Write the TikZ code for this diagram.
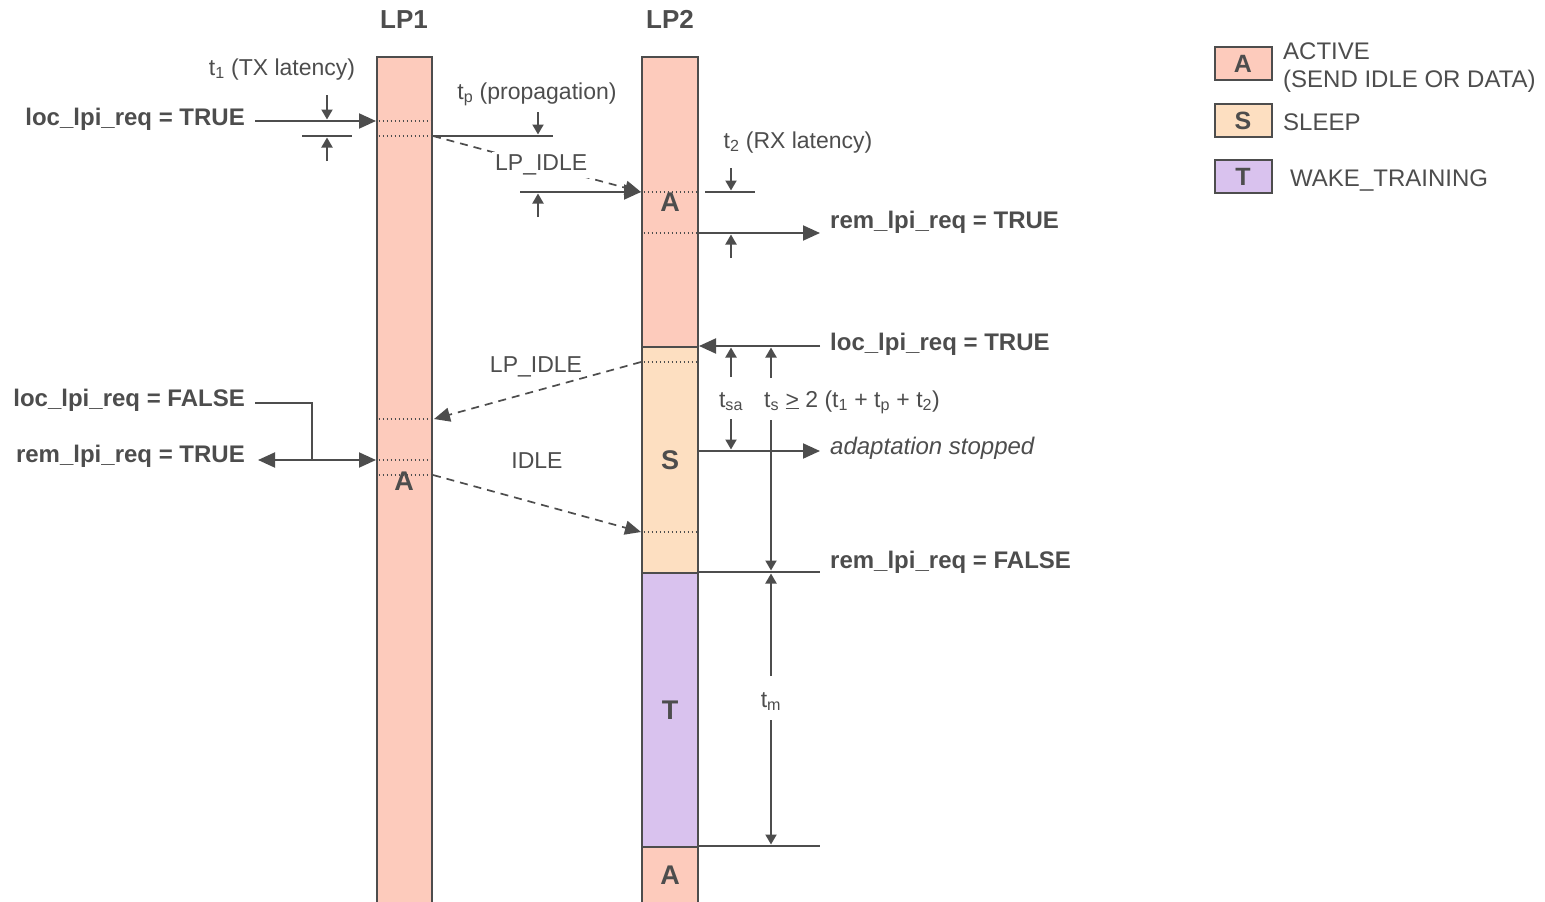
\documentclass[tikz,border=0pt]{standalone}
\usepackage{fontspec}
\setmainfont{Liberation Sans}
\usetikzlibrary{arrows.meta}

\definecolor{ink}{HTML}{4D4D4D}
\definecolor{actfill}{HTML}{FDCBBC}
\definecolor{slpfill}{HTML}{FDDFC1}
\definecolor{trnfill}{HTML}{D9C2EE}

\tikzset{
  every node/.style={text=ink, inner sep=0pt, font=\fontsize{23}{27}\selectfont},
  big/.style={font=\fontsize{24}{28}\selectfont},
  sig/.style={font=\fontsize{24}{28}\selectfont\bfseries},
  title/.style={font=\fontsize{26}{30}\selectfont\bfseries},
  state/.style={font=\fontsize{27}{31}\selectfont\bfseries},
  seg/.style={draw=ink, line width=2pt, minimum width=56pt, inner sep=0pt, anchor=north},
  keybox/.style={draw=ink, line width=2pt, minimum width=57pt, minimum height=33pt,
                 font=\fontsize{25}{29}\selectfont\bfseries},
  wire/.style={draw=ink, line width=2pt},
  bigarrow/.style={wire, -{Triangle[length=17pt,width=15pt]}},
  dualarrow/.style={wire, {Triangle[length=17pt,width=15pt]}-{Triangle[length=17pt,width=15pt]}},
  dimarrow/.style={wire, -{Triangle[length=10pt,width=11pt]}},
  msg/.style={draw=ink, line width=1.7pt, dash pattern=on 8pt off 6pt,
              -{Triangle[length=16pt,width=14pt]}},
  tick/.style={draw=ink, line width=1.3pt, dash pattern=on 1.3pt off 2.7pt},
}

\begin{document}
\begin{tikzpicture}[x=1pt,y=-1pt]
\useasboundingbox (0,0) rectangle (1545,902);

% ---------- lanes ----------
\node[seg, fill=actfill, minimum width=55pt, minimum height=850pt] (lp1) at (404.5,56) {};
\node[seg, fill=actfill, minimum height=290pt] (lp2a) at (670,56) {};
\node[seg, fill=slpfill, minimum height=226pt] (lp2s) at (670,346) {};
\node[seg, fill=trnfill, minimum height=274pt] (lp2t) at (670,572) {};
\node[seg, fill=actfill, minimum height=60pt] (lp2b) at (670,846) {};

\node[title, anchor=base] (h1) at (404,28) {LP1};
\node[title, anchor=base] (h2) at (670,28) {LP2};

% event markers inside the lanes
\foreach \y in {121,136,419,460,475}
  \draw[tick] (378.5,\y) -- (431,\y);
\foreach \y in {192,233,362,532}
  \draw[tick] (643.5,\y) -- (697,\y);

\node[state] (sA1) at (404,481) {A};
\node[state] (sA2) at (670,202) {A};
\node[state] (sS)  at (670,460) {S};
\node[state] (sT)  at (670,710) {T};
\node[state] (sA3) at (670,875) {A};

% ---------- LP1 requests sleep ----------
\node[sig, anchor=base east] (req1) at (245,125) {loc\_lpi\_req = TRUE};
\coordinate (req1s) at (255,121);
\coordinate (req1e) at (376,121);
\draw[bigarrow] (req1s) -- (req1e);

% t1 (TX latency)
\node[anchor=base] (t1lbl) at (282,75) {t\textsubscript{1} (TX latency)};
\coordinate (t1top) at (327,95);   \coordinate (t1topE) at (327,119.5);
\coordinate (t1l) at (302,136);    \coordinate (t1r) at (352,136);
\coordinate (t1bot) at (327,161);  \coordinate (t1botE) at (327,137.5);
\draw[dimarrow] (t1top) -- (t1topE);
\draw[wire] (t1l) -- (t1r);
\draw[dimarrow] (t1bot) -- (t1botE);

% tp (propagation)
\node[anchor=base] (tplbl) at (537,99) {t\textsubscript{p} (propagation)};
\coordinate (tx1) at (433,136);
\coordinate (tpr) at (553,136);
\coordinate (tptop) at (538,112);  \coordinate (tptopE) at (538,134.5);
\draw[wire] (tx1) -- (tpr);
\draw[dimarrow] (tptop) -- (tptopE);

% LP_IDLE from LP1 to LP2
\coordinate (rx1) at (641,192);
\draw[msg] (tx1) -- node[pos=0.52, fill=white, inner sep=3pt] (li1) {LP\_IDLE} (rx1);
\coordinate (rx1l) at (520,192);
\draw[bigarrow] (rx1l) -- (rx1);
\coordinate (tpbot) at (538,217);  \coordinate (tpbotE) at (538,193.5);
\draw[dimarrow] (tpbot) -- (tpbotE);

% t2 (RX latency)
\node[anchor=base] (t2lbl) at (798,148) {t\textsubscript{2} (RX latency)};
\coordinate (t2l) at (705,192);    \coordinate (t2r) at (755,192);
\coordinate (t2top) at (731,168);  \coordinate (t2topE) at (731,190.5);
\draw[wire] (t2l) -- (t2r);
\draw[dimarrow] (t2top) -- (t2topE);

\coordinate (rem1s) at (699,233);  \coordinate (rem1e) at (820,233);
\draw[bigarrow] (rem1s) -- (rem1e);
\node[sig, anchor=base west] (rem1) at (830,228) {rem\_lpi\_req = TRUE};
\coordinate (t2bot) at (731,258);  \coordinate (t2botE) at (731,234.5);
\draw[dimarrow] (t2bot) -- (t2botE);

% ---------- LP2 requests sleep ----------
\coordinate (req2s) at (820,346);  \coordinate (req2e) at (699,346);
\draw[bigarrow] (req2s) -- (req2e);
\node[sig, anchor=base west] (req2) at (830,350) {loc\_lpi\_req = TRUE};

% tsa and ts
\coordinate (tsa1) at (731,377);   \coordinate (tsa1E) at (731,347.5);
\coordinate (tsa2) at (731,419);   \coordinate (tsa2E) at (731,449.5);
\draw[dimarrow] (tsa1) -- (tsa1E);
\draw[dimarrow] (tsa2) -- (tsa2E);
\node[anchor=base] (tsalbl) at (731,407) {t\textsubscript{sa}};

\coordinate (ts1) at (771,378);    \coordinate (ts1E) at (771,347.5);
\coordinate (ts2) at (771,420);    \coordinate (ts2E) at (771,570.5);
\draw[dimarrow] (ts1) -- (ts1E);
\draw[dimarrow] (ts2) -- (ts2E);
\node[anchor=base west] (tslbl) at (764,407)
  {t\textsubscript{s} \underline{>} 2 (t\textsubscript{1} + t\textsubscript{p} + t\textsubscript{2})};

\coordinate (adS) at (699,451);    \coordinate (adE) at (820,451);
\draw[bigarrow] (adS) -- (adE);
\node[anchor=base west, font=\fontsize{24}{28}\selectfont\itshape] (adlbl) at (830,454) {adaptation stopped};

% LP_IDLE from LP2 back to LP1
\coordinate (tx2) at (641,362);    \coordinate (rx2) at (434,419);
\draw[msg] (tx2) -- (rx2);
\node[anchor=base] (li2) at (536,372) {LP\_IDLE};

% LP1 leaves LPI
\node[sig, anchor=base east] (lf) at (245,406) {loc\_lpi\_req = FALSE};
\node[sig, anchor=base east] (rt) at (245,462) {rem\_lpi\_req = TRUE};
\coordinate (lfs) at (255,403);    \coordinate (lfj) at (312,460);
\draw[wire] (lfs) -| (lfj);
\coordinate (rts) at (258,460);    \coordinate (rte) at (376,460);
\draw[dualarrow] (rts) -- (rte);

% IDLE from LP1 to LP2
\coordinate (tx3) at (433,475);    \coordinate (rx3) at (641,532);
\draw[msg] (tx3) -- (rx3);
\node[anchor=base] (idl) at (537,468) {IDLE};

% wake
\coordinate (wk1) at (699,572);    \coordinate (wk2) at (820,572);
\draw[wire] (wk1) -- (wk2);
\node[sig, anchor=base west] (remf) at (830,568) {rem\_lpi\_req = FALSE};

\coordinate (tm1) at (771,676);    \coordinate (tm1E) at (771,573.5);
\coordinate (tm2) at (771,720);    \coordinate (tm2E) at (771,844.5);
\draw[dimarrow] (tm1) -- (tm1E);
\draw[dimarrow] (tm2) -- (tm2E);
\node[anchor=base] (tmlbl) at (771,707) {t\textsubscript{m}};
\coordinate (en1) at (699,846);    \coordinate (en2) at (820,846);
\draw[wire] (en1) -- (en2);

% ---------- key ----------
\node[keybox, fill=actfill] (kA) at (1243,63.5) {A};
\node[keybox, fill=slpfill] (kS) at (1243,120.5) {S};
\node[keybox, fill=trnfill] (kT) at (1243,176.5) {T};
\node[big, anchor=base west] (kA1) at (1283,59) {ACTIVE};
\node[big, anchor=base west] (kA2) at (1283,87) {(SEND IDLE OR DATA)};
\node[big, anchor=base west] (kS1) at (1283,130) {SLEEP};
\node[big, anchor=base west] (kT1) at (1290,186) {WAKE\_TRAINING};
\end{tikzpicture}
\end{document}
